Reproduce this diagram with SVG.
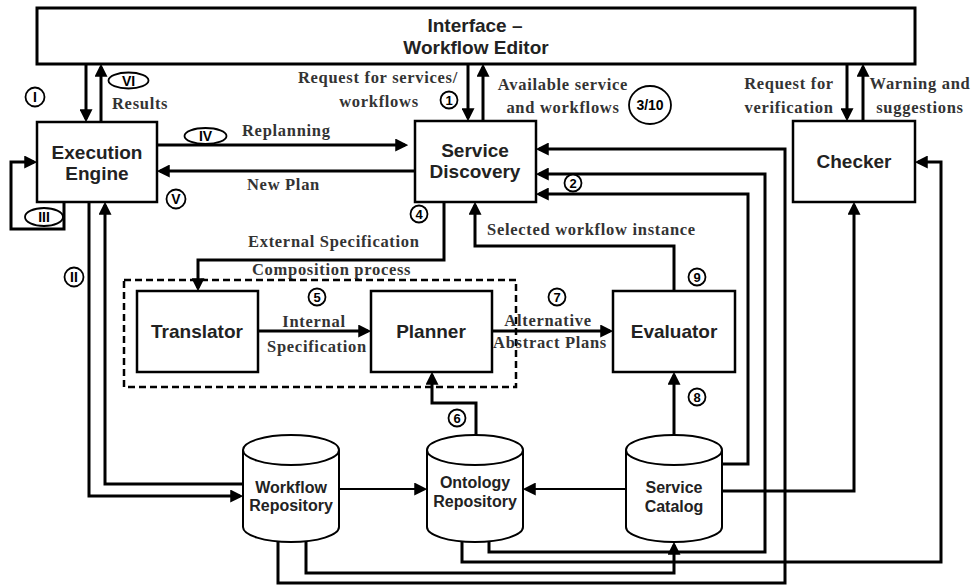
<svg xmlns="http://www.w3.org/2000/svg" width="975" height="586" viewBox="0 0 975 586">
<defs>
<marker id="ah" markerUnits="userSpaceOnUse" markerWidth="13" markerHeight="13" viewBox="0 0 12 12" refX="9" refY="6" orient="auto">
<path d="M0,0 L12,6 L0,12 z" fill="#000"/>
</marker>
<style>
.box{fill:#fff;stroke:#000;stroke-width:2.5}
.cyl{fill:#fff;stroke:#000;stroke-width:2}
.c{fill:none;stroke:#000;stroke-width:3;marker-end:url(#ah)}
.cl{fill:none;stroke:#000;stroke-width:3}
.thin{fill:none;stroke:#000;stroke-width:2;marker-end:url(#ah)}
.nt{font-family:"Liberation Sans",Arial,sans-serif;font-weight:bold;font-size:19px;fill:#222;text-anchor:middle}
.ct{font-family:"Liberation Sans",Arial,sans-serif;font-weight:bold;font-size:16px;fill:#222;text-anchor:middle}
.lb{font-family:"Liberation Serif","Times New Roman",serif;font-weight:bold;font-size:16.5px;fill:#333;letter-spacing:0.7px}
.mid{text-anchor:middle}
.end{text-anchor:end}
.num{fill:#fff;stroke:#000;stroke-width:1.8}
.nn{font-family:"Liberation Sans",Arial,sans-serif;font-weight:bold;font-size:13px;fill:#000;text-anchor:middle}
.rn{font-family:"Liberation Sans",Arial,sans-serif;font-weight:bold;font-size:14px;fill:#000;text-anchor:middle}
</style>
</defs>

<g id="connectors">
<path class="c" d="M86,64 V119"/>
<path class="c" d="M101,122 V67"/>
<path class="c" d="M468,64 V118"/>
<path class="c" d="M483,121 V67"/>
<path class="c" d="M847,64 V118"/>
<path class="c" d="M863,121 V67"/>
<path class="c" d="M157,145 H405"/>
<path class="c" d="M415,171 H160"/>
<path class="c" d="M64,202 V229 H11 V162 H34"/>
<path class="c" d="M89,202 V496 H240"/>
<path class="c" d="M243,484 H105 V205"/>
<path class="c" d="M444,202 V260 H198 V288"/>
<path class="c" d="M258,331 H368"/>
<path class="c" d="M492,331 H610"/>
<path class="c" d="M674,291 V246 H475 V205"/>
<path class="c" d="M674,440 V375"/>
<path class="c" d="M476,440 V403 H432 V375"/>
<path class="thin" d="M339,489 H424"/>
<path class="thin" d="M626,489 H526"/>
<path class="c" d="M720,464 H748 V194 H539"/>
<path class="c" d="M720,491 H854 V205"/>
<path class="c" d="M489,538 V552 H765 V174 H539"/>
<path class="c" d="M462,538 V562 H941 V162 H918"/>
<path class="c" d="M306,538 V573 H674 V545"/>
<path class="c" d="M278,538 V583 H785 V149 H539"/>
</g>

<g id="interface">
<rect x="37" y="8" width="878" height="56" fill="#fff" stroke="#000" stroke-width="3"/>
<text class="nt" x="475" y="32">Interface –</text>
<text class="nt" x="476" y="54">Workflow Editor</text>
</g>

<g id="execution-engine">
<rect class="box" x="37" y="122" width="120" height="80"/>
<text class="nt" x="97" y="159">Execution</text>
<text class="nt" x="97" y="180">Engine</text>
</g>

<g id="service-discovery">
<rect class="box" x="415" y="121" width="121" height="81"/>
<text class="nt" x="475" y="157">Service</text>
<text class="nt" x="475" y="178">Discovery</text>
</g>

<g id="checker">
<rect class="box" x="793" y="121" width="122" height="81"/>
<text class="nt" x="854" y="168">Checker</text>
</g>

<g id="composition-process">
<rect x="124" y="280" width="392" height="107" fill="none" stroke="#000" stroke-width="2.5" stroke-dasharray="7,4"/>
</g>

<g id="translator">
<rect class="box" x="137" y="291" width="121" height="81"/>
<text class="nt" x="197" y="338">Translator</text>
</g>

<g id="planner">
<rect class="box" x="371" y="291" width="121" height="81"/>
<text class="nt" x="431" y="338">Planner</text>
</g>

<g id="evaluator">
<rect class="box" x="613" y="291" width="122" height="81"/>
<text class="nt" x="674" y="338">Evaluator</text>
</g>

<g id="workflow-repository">
<path class="cyl" d="M243,450 V527 A48,15 0 0 0 339,527 V450 A48,15 0 0 0 243,450 Z"/>
<path class="cyl" fill="none" d="M243,450 A48,15 0 0 0 339,450"/>
<text class="ct" x="291" y="493">Workflow</text>
<text class="ct" x="291" y="511">Repository</text>
</g>

<g id="ontology-repository">
<path class="cyl" d="M427,450 V527 A48,15 0 0 0 523,527 V450 A48,15 0 0 0 427,450 Z"/>
<path class="cyl" fill="none" d="M427,450 A48,15 0 0 0 523,450"/>
<text class="ct" x="475" y="488">Ontology</text>
<text class="ct" x="475" y="507">Repository</text>
</g>

<g id="service-catalog">
<path class="cyl" d="M626,450 V527 A48,15 0 0 0 722,527 V450 A48,15 0 0 0 626,450 Z"/>
<path class="cyl" fill="none" d="M626,450 A48,15 0 0 0 722,450"/>
<text class="ct" x="674" y="493">Service</text>
<text class="ct" x="674" y="512">Catalog</text>
</g>

<g id="labels">
<text class="lb" x="112" y="109">Results</text>
<text class="lb" x="242" y="136">Replanning</text>
<text class="lb" x="247" y="190">New Plan</text>
<text class="lb end" x="458" y="83">Request for services/</text>
<text class="lb mid" x="379" y="107">workflows</text>
<text class="lb mid" x="563" y="90">Available service</text>
<text class="lb mid" x="563" y="113">and workflows</text>
<text class="lb mid" x="789" y="89">Request for</text>
<text class="lb mid" x="789" y="113">verification</text>
<text class="lb mid" x="920" y="89">Warning and</text>
<text class="lb mid" x="920" y="113">suggestions</text>
<text class="lb" x="248" y="247">External Specification</text>
<text class="lb" x="252" y="275">Composition process</text>
<text class="lb mid" x="314" y="327">Internal</text>
<text class="lb mid" x="317" y="352">Specification</text>
<text class="lb mid" x="548" y="326">Alternative</text>
<text class="lb mid" x="550" y="348">Abstract Plans</text>
<text class="lb" x="487" y="235">Selected workflow instance</text>
</g>

<g id="step-markers">
<circle class="num" cx="449" cy="100" r="8.5"/><text class="nn" x="449" y="104.5">1</text>
<circle class="num" cx="573" cy="183" r="8.5"/><text class="nn" x="573" y="187.5">2</text>
<circle class="num" cx="419" cy="214" r="8.5"/><text class="nn" x="419" y="218.5">4</text>
<circle class="num" cx="317" cy="297" r="8.5"/><text class="nn" x="317" y="301.5">5</text>
<circle class="num" cx="457" cy="418" r="8.5"/><text class="nn" x="457" y="422.5">6</text>
<circle class="num" cx="557" cy="297" r="8.5"/><text class="nn" x="557" y="301.5">7</text>
<circle class="num" cx="697" cy="397" r="8.5"/><text class="nn" x="697" y="401.5">8</text>
<circle class="num" cx="697" cy="277" r="8.5"/><text class="nn" x="697" y="281.5">9</text>
<ellipse class="num" cx="650" cy="105" rx="21" ry="19"/><text class="rn" x="650" y="110" font-size="15">3/10</text>
<circle class="num" cx="35" cy="97" r="9.5"/><text class="rn" x="35" y="102">I</text>
<circle class="num" cx="74" cy="277" r="9.5"/><text class="rn" x="74" y="282">II</text>
<circle class="num" cx="176" cy="199" r="9.5"/><text class="rn" x="176" y="204">V</text>
<ellipse class="num" cx="128.5" cy="80.5" rx="20" ry="8"/><text class="rn" x="128.5" y="85.5">VI</text>
<ellipse class="num" cx="205.5" cy="136" rx="21" ry="8"/><text class="rn" x="205.5" y="141">IV</text>
<ellipse class="num" cx="44" cy="217" rx="19" ry="9"/><text class="rn" x="44" y="222">III</text>
</g>
</svg>
